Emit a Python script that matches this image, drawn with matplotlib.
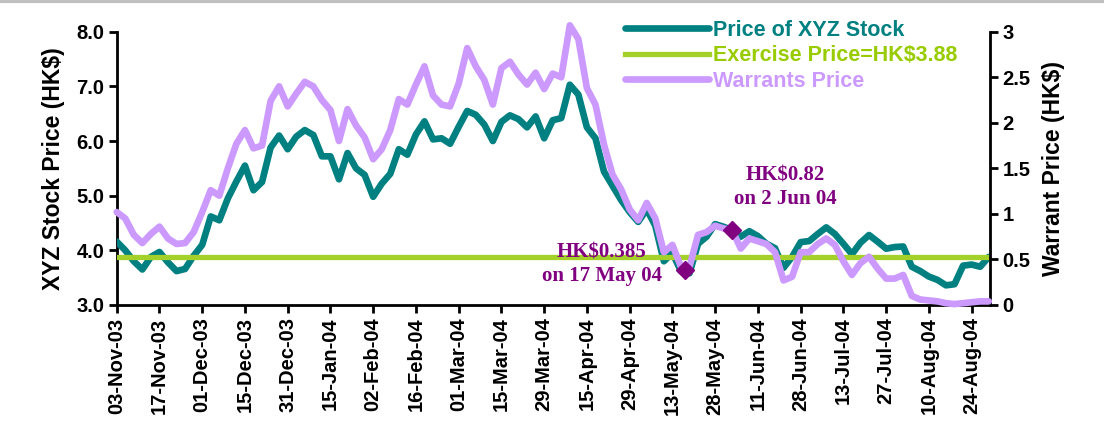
import numpy as np
import matplotlib
matplotlib.use("Agg")
import matplotlib.pyplot as plt
from matplotlib.lines import Line2D

# ---------------- data (sampled every 2 trading days, 03-Nov-03 .. end Aug-04) -------------
stock_price = [4.16, 4.00, 3.80, 3.65, 3.88, 3.97, 3.78, 3.62, 3.66, 3.90,
               4.10, 4.62, 4.55, 4.95, 5.26, 5.55, 5.10, 5.25, 5.88, 6.10,
               5.85, 6.08, 6.20, 6.11, 5.72, 5.72, 5.30, 5.78, 5.50, 5.38,
               4.98, 5.22, 5.40, 5.85, 5.75, 6.12, 6.36, 6.03, 6.05, 5.95,
               6.26, 6.55, 6.48, 6.30, 6.00, 6.35, 6.47, 6.40, 6.25, 6.45,
               6.05, 6.38, 6.42, 7.03, 6.85, 6.25, 6.05, 5.44, 5.18, 4.92,
               4.70, 4.52, 4.75, 4.45, 3.80, 3.95, 3.62, 3.58, 4.12, 4.25,
               4.48, 4.43, 4.37, 4.25, 4.35, 4.26, 4.12, 4.04, 3.68, 3.88,
               4.15, 4.17, 4.30, 4.42, 4.30, 4.12, 3.93, 4.14, 4.28, 4.16,
               4.03, 4.06, 4.07, 3.70, 3.62, 3.52, 3.46, 3.36, 3.38, 3.72,
               3.74, 3.70, 3.88]
warrant_price = [1.02, 0.95, 0.77, 0.68, 0.78, 0.86, 0.73, 0.67, 0.68, 0.80,
                 1.02, 1.26, 1.20, 1.50, 1.77, 1.92, 1.72, 1.75, 2.24, 2.40,
                 2.18, 2.32, 2.45, 2.40, 2.25, 2.14, 1.80, 2.15, 1.97, 1.84,
                 1.60, 1.71, 1.92, 2.26, 2.20, 2.42, 2.62, 2.30, 2.20, 2.18,
                 2.43, 2.82, 2.62, 2.47, 2.20, 2.60, 2.67, 2.53, 2.42, 2.55,
                 2.37, 2.54, 2.50, 3.07, 2.92, 2.38, 2.20, 1.76, 1.43, 1.27,
                 1.05, 0.93, 1.12, 0.95, 0.58, 0.66, 0.42, 0.42, 0.77, 0.80,
                 0.87, 0.84, 0.82, 0.62, 0.73, 0.70, 0.67, 0.58, 0.27, 0.31,
                 0.58, 0.58, 0.67, 0.73, 0.66, 0.48, 0.33, 0.46, 0.53, 0.40,
                 0.29, 0.29, 0.33, 0.10, 0.06, 0.05, 0.04, 0.02, 0.01, 0.02,
                 0.03, 0.04, 0.04]
sample_step = 2          # trading days between samples
exercise_price = 3.88

tick_labels = ["03-Nov-03", "17-Nov-03", "01-Dec-03", "15-Dec-03", "31-Dec-03",
               "15-Jan-04", "02-Feb-04", "16-Feb-04", "01-Mar-04", "15-Mar-04",
               "29-Mar-04", "15-Apr-04", "29-Apr-04", "13-May-04", "28-May-04",
               "11-Jun-04", "28-Jun-04", "13-Jul-04", "27-Jul-04", "10-Aug-04",
               "24-Aug-04"]
tick_step = 10           # trading days between tick labels

marker_day = [133, 144]          # trading-day index of highlighted points
marker_value = [0.385, 0.82]
marker_text = ["HK$0.385\non 17 May 04", "HK$0.82\non 2 Jun 04"]

# ---------------- style ----------------
TEAL = "#008080"
LIME = "#A4D02A"
LAV = "#CC99FF"
PURP = "#800080"
SANS = "Liberation Sans"
SERIF = "Liberation Serif"
LW = 4.8

fig = plt.figure(figsize=(11.04, 4.32), dpi=100)
ax = fig.add_axes([116.7 / 1104, 1 - 305 / 432, (990 - 116.7) / 1104, (305 - 31.7) / 432])
ax2 = ax.twinx()

x = np.arange(len(stock_price)) * sample_step
n_days = x[-1]

ax.plot(x, stock_price, color=TEAL, lw=LW, solid_capstyle="round",
        solid_joinstyle="round", zorder=3)
ax.axhline(exercise_price, color=LIME, lw=3.8, zorder=4)
ax2.plot(x, warrant_price, color=LAV, lw=LW, solid_capstyle="round",
         solid_joinstyle="round", zorder=3, clip_on=False)
ax2.plot(marker_day, marker_value, ls="none", marker="D", ms=9,
         color=PURP, zorder=5)

ax.set_xlim(0, n_days + 0.3)
ax.set_ylim(3, 8)
ax2.set_ylim(0, 3)

ax.set_xticks(np.arange(len(tick_labels)) * tick_step)
ax.set_xticklabels(tick_labels, rotation=90, fontsize=14.5,
                   fontweight="bold", family=SANS)
ax.set_yticks(np.arange(3, 8.01, 1.0))
ax.set_yticklabels([f"{v:.1f}" for v in np.arange(3, 8.01, 1.0)],
                   fontsize=14.5, fontweight="bold", family=SANS)
rt = np.arange(0, 3.01, 0.5)
ax2.set_yticks(rt)
ax2.set_yticklabels([f"{v:g}" for v in rt], fontsize=14.5,
                    fontweight="bold", family=SANS)

for a in (ax, ax2):
    a.spines["top"].set_visible(False)
    for s in ("left", "right", "bottom"):
        a.spines[s].set_linewidth(2)
    a.tick_params(direction="out", length=6, width=2, pad=3)
ax.spines["right"].set_visible(False)
ax2.spines["left"].set_visible(False)
ax2.spines["bottom"].set_visible(False)

ax.set_ylabel("XYZ Stock Price (HK$)", fontsize=16.5, fontweight="bold",
              family=SANS, labelpad=8)
ax2.set_ylabel("Warrant Price (HK$)", fontsize=16.5, fontweight="bold",
               family=SANS, labelpad=8)

offsets = [(-60, 4), (38, 31)]
for d, v, t, off in zip(marker_day, marker_value, marker_text, offsets):
    ax2.annotate(t, xy=(d, v), xytext=off, textcoords="offset points",
                 ha="center", va="center", fontsize=15, fontweight="bold",
                 family=SERIF, color=PURP, linespacing=1.25, zorder=6)

handles = [Line2D([], [], color=TEAL, lw=LW, solid_capstyle="round"),
           Line2D([], [], color=LIME, lw=3.8),
           Line2D([], [], color=LAV, lw=LW, solid_capstyle="round")]
labels = ["Price of XYZ Stock", f"Exercise Price=HK${exercise_price:.2f}",
          "Warrants Price"]
leg = fig.legend(handles, labels, loc="upper left",
                 bbox_to_anchor=(625 / 1104, 1 - 20 / 432),
                 frameon=False, handlelength=3.9, handletextpad=0.2,
                 labelspacing=0.2, borderpad=0, borderaxespad=0,
                 prop={"family": SANS, "weight": "bold", "size": 15.5})
for txt, c in zip(leg.get_texts(), [TEAL, "#99CC00", LAV]):
    txt.set_color(c)

fig.add_artist(Line2D([0, 1], [0.997, 0.997], transform=fig.transFigure,
                      color="#C0C0C0", lw=3))

fig.savefig("out.png", dpi=100)
